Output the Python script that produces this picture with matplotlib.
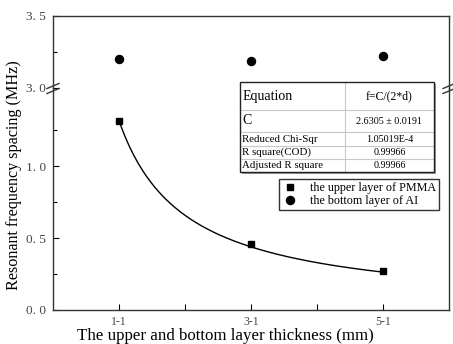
import matplotlib
matplotlib.use("Agg")
import matplotlib.pyplot as plt
import numpy as np
from matplotlib.lines import Line2D
from matplotlib.patches import Rectangle

plt.rcParams["font.family"] = ["Liberation Serif", "DejaVu Serif"]

# thickness of the upper layer (mm), bottom layer is 1 mm
thickness = [1, 3, 5]
tick_names = ["1-1", "", "3-1", "", "5-1"]
pmma = [1.315, 0.458, 0.27]
al = [3.20, 3.19, 3.22]

# fit result f = C / (2*d)
C_fit = 2.6305
C_err = 0.0191
chi_sqr = "1.05019E-4"
r_square = "0.99966"
adj_r_square = "0.99966"

W, H = 453, 344
fig = plt.figure(figsize=(W / 100, H / 100), dpi=100)


def fx(px):
    return px / W


def fy(py):
    return 1 - py / H


left, right = 53, 449
top, brk, bottom = 16, 88, 310

ax_lo = fig.add_axes([fx(left), fy(bottom), fx(right - left), fy(brk) - fy(bottom)])
ax_hi = fig.add_axes([fx(left), fy(brk), fx(right - left), fy(top) - fy(brk)])

lo_max = (bottom - brk) / 144.0
ax_lo.set_ylim(0, lo_max)
ax_hi.set_ylim(3.0, 3.5)
for a in (ax_lo, ax_hi):
    a.set_xlim(0, 6)
    a.tick_params(direction="in", length=4, width=0.8, labelsize=9.5,
                  labelcolor="#444444", pad=5)
    a.tick_params(which="minor", direction="in", length=3, width=0.8)
    for s in a.spines.values():
        s.set_linewidth(1.0)
        s.set_color("#333333")

ax_lo.spines["top"].set_visible(False)
ax_hi.spines["bottom"].set_visible(False)

ax_lo.set_xticks([1, 2, 3, 4, 5])
ax_lo.set_xticklabels(tick_names)
ax_lo.tick_params(axis="x", pad=4.5, labelsize=8.5)
ax_hi.set_xticks([])

ax_lo.set_yticks([0, 0.5, 1.0])
ax_lo.set_yticks([0.25, 0.75, 1.25], minor=True)
ax_lo.set_yticklabels(["0. 0", "0. 5", "1. 0"])
ax_hi.set_yticks([3.0, 3.5])
ax_hi.set_yticks([3.25], minor=True)
ax_hi.set_yticklabels(["3. 0", "3. 5"])

# measured points
sq, = ax_lo.plot(thickness, pmma, "s", color="black", markersize=5,
                 label="the upper layer of PMMA", zorder=5)
ci, = ax_hi.plot(thickness, al, "o", color="black", markersize=5.8,
                 label="the bottom layer of AI", zorder=5)

# fitted curve
d = np.linspace(thickness[0], thickness[-1], 200)
ax_lo.plot(d, C_fit / (2 * d), color="black", linewidth=1.0)

# axis break marks
for xb in (left, right):
    for yb in (86, 91):
        fig.add_artist(Line2D([fx(xb - 6), fx(xb + 6)], [fy(yb + 2.5), fy(yb - 2.5)],
                              color="#333333", linewidth=1.0))

fig.text(fx(14), fy(175), "Resonant frequency spacing (MHz)", rotation=90,
         ha="center", va="center", fontsize=11.6)
fig.text(fx(225), fy(335.5), "The upper and bottom layer thickness (mm)",
         ha="center", va="center", fontsize=12.2)

# fit summary table
tx0, tx1, tcol = 240, 434, 345
rows = [
    (82, 110, "Equation", "f=C/(2*d)", 10, 8.5),
    (110, 132, "C", f"{C_fit} ± {C_err}", 10, 7.3),
    (132, 146, "Reduced Chi-Sqr", chi_sqr, 7.8, 7.3),
    (146, 159, "R square(COD)", r_square, 7.8, 7.3),
    (159, 172, "Adjusted R square", adj_r_square, 7.8, 7.3),
]
fig.add_artist(Rectangle((fx(tx0 + 2), fy(rows[-1][1] + 2)), fx(tx1 - tx0), fy(rows[0][0]) - fy(rows[-1][1]),
                         facecolor="#999999", edgecolor="none", zorder=6))
fig.add_artist(Rectangle((fx(tx0), fy(rows[-1][1])), fx(tx1 - tx0), fy(rows[0][0]) - fy(rows[-1][1]),
                         facecolor="white", edgecolor="none", zorder=7))
for y0, y1, name, val, fs_name, fs_val in rows:
    fig.add_artist(Line2D([fx(tx0), fx(tx1)], [fy(y1), fy(y1)], color="#c8c8c8",
                          linewidth=0.8, zorder=8))
    fig.text(fx(tx0 + 2.5), fy((y0 + y1) / 2), name, ha="left", va="center",
             fontsize=fs_name, zorder=9)
    fig.text(fx((tcol + tx1) / 2), fy((y0 + y1) / 2), val, ha="center", va="center",
             fontsize=fs_val, zorder=9)
fig.add_artist(Line2D([fx(tcol), fx(tcol)], [fy(rows[0][0]), fy(rows[-1][1])],
                      color="#c8c8c8", linewidth=0.8, zorder=8))
fig.add_artist(Rectangle((fx(tx0), fy(rows[-1][1])), fx(tx1 - tx0), fy(rows[0][0]) - fy(rows[-1][1]),
                         facecolor="none", edgecolor="#222222", linewidth=1.0, zorder=10))

leg = fig.legend(handles=[sq, ci], loc="upper left",
                 bbox_to_anchor=(fx(279), fy(179)), frameon=True, fancybox=False,
                 fontsize=8.7, handlelength=1.4, handletextpad=0.9,
                 borderpad=0.25, labelspacing=0.1, borderaxespad=0)
leg.get_frame().set_edgecolor("black")
leg.get_frame().set_linewidth(1.0)

fig.savefig("out.png", dpi=100)
